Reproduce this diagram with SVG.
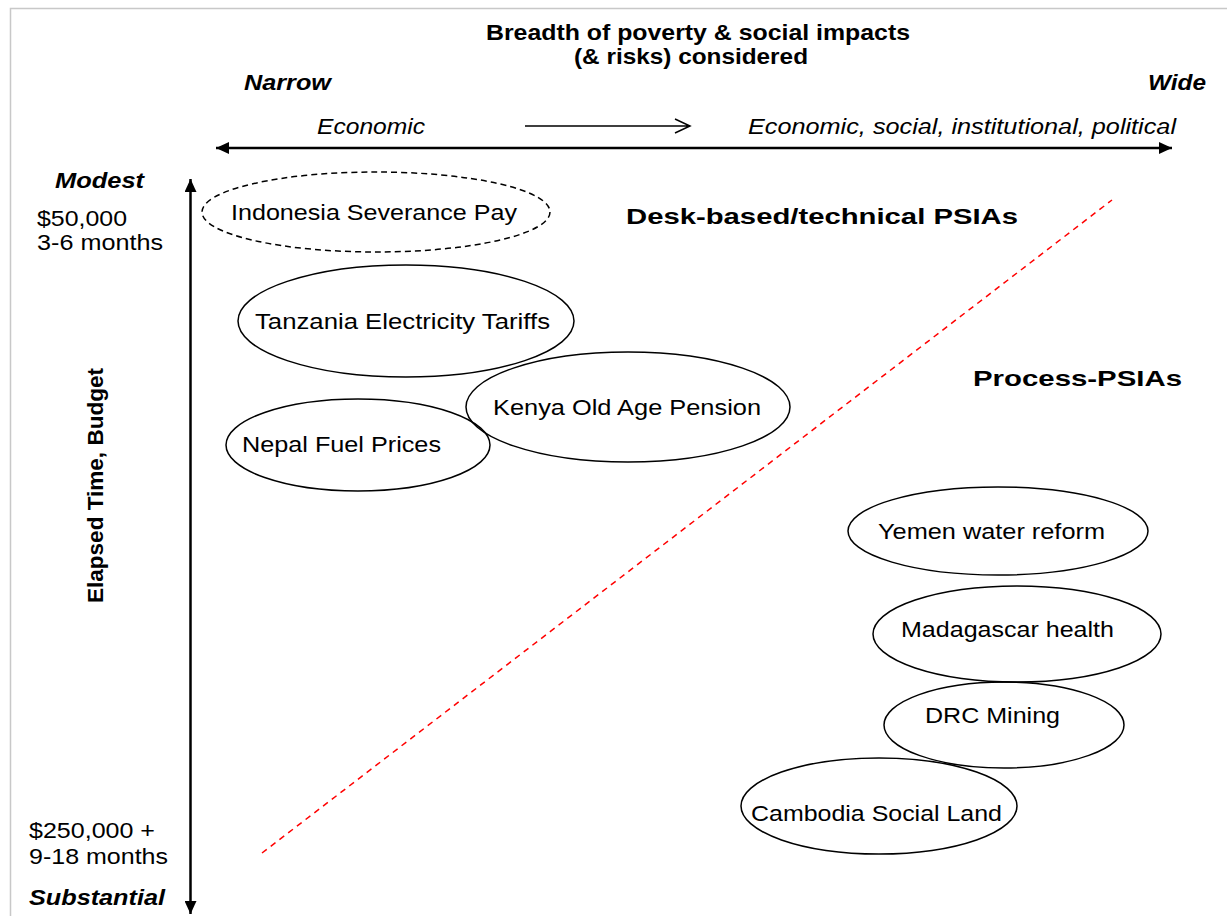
<svg xmlns="http://www.w3.org/2000/svg" width="1227" height="916" viewBox="0 0 1227 916">
  <style>
    .t { font-family: "Liberation Sans", Arial, sans-serif; font-size: 22px; fill: #000; }
    .b { font-weight: bold; }
    .i { font-style: italic; }
    .node ellipse { fill: none; stroke: #000; stroke-width: 1.5; }
    .node ellipse.dash { stroke-dasharray: 6 4; }
    .axis { stroke: #000; stroke-width: 2.5; fill: none; }
  </style>
  <defs>
    <marker id="head" markerUnits="userSpaceOnUse" markerWidth="14" markerHeight="12" refX="13" refY="6" orient="auto-start-reverse">
      <path d="M0,0 L13,6 L0,12 Z" fill="#000"/>
    </marker>
  </defs>

  <rect width="1227" height="916" fill="#fff"/>
  <!-- page frame -->
  <path d="M10.5,940 L10.5,8.5 L1240,8.5" fill="none" stroke="#c8c8c8" stroke-width="1.5"/>

  <!-- horizontal axis: breadth of impacts -->
  <g id="breadth-axis">
    <text class="t b" x="486" y="40" font-size="22" textLength="424" lengthAdjust="spacingAndGlyphs">Breadth of poverty &amp; social impacts</text>
    <text class="t b" x="574" y="64" font-size="22" textLength="234" lengthAdjust="spacingAndGlyphs">(&amp; risks) considered</text>
    <text class="t b i" x="244" y="90" textLength="87" lengthAdjust="spacingAndGlyphs">Narrow</text>
    <text class="t b i" x="1148" y="90" textLength="58" lengthAdjust="spacingAndGlyphs">Wide</text>
    <text class="t i" x="317" y="134" textLength="108" lengthAdjust="spacingAndGlyphs">Economic</text>
    <text class="t i" x="748" y="134" textLength="428" lengthAdjust="spacingAndGlyphs">Economic, social, institutional, political</text>
  </g>

  <!-- vertical axis: elapsed time and budget -->
  <g id="time-axis">
    <text class="t b i" x="55" y="188" textLength="89" lengthAdjust="spacingAndGlyphs">Modest</text>
    <text class="t" x="37" y="226" textLength="90" lengthAdjust="spacingAndGlyphs">$50,000</text>
    <text class="t" x="37" y="250" textLength="126" lengthAdjust="spacingAndGlyphs">3-6 months</text>
    <text class="t b" transform="translate(103,603) rotate(-90)" font-size="21" textLength="235" lengthAdjust="spacingAndGlyphs">Elapsed Time, Budget</text>
    <text class="t" x="29" y="838" textLength="126" lengthAdjust="spacingAndGlyphs">$250,000 +</text>
    <text class="t" x="29" y="864" textLength="139" lengthAdjust="spacingAndGlyphs">9-18 months</text>
    <text class="t b i" x="29" y="905" textLength="136" lengthAdjust="spacingAndGlyphs">Substantial</text>
  </g>

  <g id="connectors">
    <line class="axis" x1="216" y1="148" x2="1172" y2="148" marker-start="url(#head)" marker-end="url(#head)"/>
    <line class="axis" x1="190.5" y1="179" x2="190.5" y2="914" marker-start="url(#head)" marker-end="url(#head)"/>
    <path d="M525,126 L689,126 M675,119 L690,126 L675,133" fill="none" stroke="#000" stroke-width="1.5"/>
    <line x1="262" y1="853" x2="1112" y2="200" stroke="#ff0000" stroke-width="1.5" stroke-dasharray="6 5"/>
  </g>

  <!-- region labels -->
  <g id="desk-based">
    <text class="t b" x="626" y="224" font-size="25" textLength="392" lengthAdjust="spacingAndGlyphs">Desk-based/technical PSIAs</text>
  </g>
  <g id="process">
    <text class="t b" x="973" y="386" font-size="25" textLength="209" lengthAdjust="spacingAndGlyphs">Process-PSIAs</text>
  </g>

  <!-- PSIA case studies -->
  <g id="indonesia" class="node">
    <ellipse class="dash" cx="376" cy="212" rx="174" ry="40"/>
    <text class="t" x="231" y="220" textLength="286" lengthAdjust="spacingAndGlyphs">Indonesia Severance Pay</text>
  </g>
  <g id="tanzania" class="node">
    <ellipse cx="406" cy="321" rx="168" ry="56"/>
    <text class="t" x="255" y="329" textLength="295" lengthAdjust="spacingAndGlyphs">Tanzania Electricity Tariffs</text>
  </g>
  <g id="kenya" class="node">
    <ellipse cx="628" cy="407" rx="162" ry="55"/>
    <text class="t" x="493" y="415" textLength="268" lengthAdjust="spacingAndGlyphs">Kenya Old Age Pension</text>
  </g>
  <g id="nepal" class="node">
    <ellipse cx="358" cy="445" rx="132" ry="46"/>
    <text class="t" x="242" y="452" textLength="199" lengthAdjust="spacingAndGlyphs">Nepal Fuel Prices</text>
  </g>
  <g id="yemen" class="node">
    <ellipse cx="998" cy="531" rx="150" ry="44"/>
    <text class="t" x="878" y="539" textLength="227" lengthAdjust="spacingAndGlyphs">Yemen water reform</text>
  </g>
  <g id="madagascar" class="node">
    <ellipse cx="1017" cy="634" rx="144" ry="48"/>
    <text class="t" x="901" y="637" textLength="213" lengthAdjust="spacingAndGlyphs">Madagascar health</text>
  </g>
  <g id="drc" class="node">
    <ellipse cx="1004" cy="725" rx="120" ry="43"/>
    <text class="t" x="925" y="723" textLength="135" lengthAdjust="spacingAndGlyphs">DRC Mining</text>
  </g>
  <g id="cambodia" class="node">
    <ellipse cx="879" cy="806" rx="138" ry="48"/>
    <text class="t" x="751" y="821" textLength="251" lengthAdjust="spacingAndGlyphs">Cambodia Social Land</text>
  </g>
</svg>
